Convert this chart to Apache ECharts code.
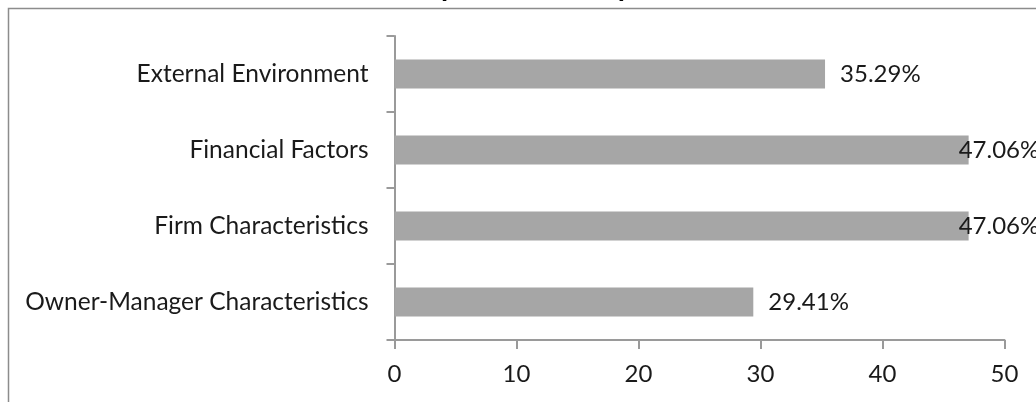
<!DOCTYPE html>
<html>
<head>
<meta charset="utf-8">
<script src="https://cdn.jsdelivr.net/npm/echarts@6/dist/echarts.min.js"></script>
<style>
  html, body { margin: 0; padding: 0; background: #fff; }
  #chart { width: 1036px; height: 402px; }
</style>
</head>
<body>
<div id="chart"></div>
<script>
// categories listed bottom to top (category y axis starts at the bottom)
var categories = [
  "Owner-Manager Characteristics",
  "Firm Characteristics",
  "Financial Factors",
  "External Environment"
];
var shareValues = [29.41, 47.06, 47.06, 35.29];
var xTicks = [0, 10, 20, 30, 40, 50];
var titleText = "(n = 17 studies)";

var FONT = "Lato";
var chart = echarts.init(document.getElementById("chart"));

// labels that would run past the plot edge get pulled back (like Excel does)
var barData = shareValues.map(function (v) {
  var item = { value: v };
  if (v > 45) {
    item.label = { offset: [-25, 0] };
  }
  return item;
});

var option = {
  animation: false,
  backgroundColor: "#fff",
  textStyle: { fontFamily: FONT },
  title: {
    text: titleText,
    left: 528,
    top: -29,
    textAlign: "center",
    textStyle: {
      fontFamily: "Liberation Sans",
      fontSize: 26,
      fontWeight: "bold",
      color: "#000"
    }
  },
  graphic: [
    {
      // outer chart border, runs off the picture on the right and bottom
      type: "rect",
      shape: { x: 8.5, y: 8.5, width: 1100, height: 500 },
      style: { fill: "none", stroke: "#8c8c8c", lineWidth: 1.5 },
      silent: true,
      z: -1
    }
  ],
  grid: {
    left: 394.5,
    top: 36,
    right: 31.5,
    bottom: 62,
    containLabel: false
  },
  xAxis: {
    type: "value",
    min: xTicks[0],
    max: xTicks[xTicks.length - 1],
    interval: xTicks[1] - xTicks[0],
    splitLine: { show: false },
    axisLine: { show: true, lineStyle: { color: "#9a9a9a", width: 2 } },
    axisTick: { show: true, length: 9, lineStyle: { color: "#9a9a9a", width: 2 } },
    axisLabel: {
      margin: 22,
      fontFamily: FONT,
      fontSize: 24,
      color: "#1a1a1a"
    }
  },
  yAxis: {
    type: "category",
    data: categories,
    axisLine: { show: true, lineStyle: { color: "#9a9a9a", width: 2 } },
    axisTick: { show: true, length: 8, alignWithLabel: false, lineStyle: { color: "#9a9a9a", width: 2 } },
    axisLabel: {
      margin: 26,
      fontFamily: FONT,
      fontSize: 24.5,
      color: "#1a1a1a"
    }
  },
  series: [
    {
      type: "bar",
      data: barData,
      barWidth: 29,
      itemStyle: { color: "#a6a6a6" },
      label: {
        show: true,
        position: "right",
        distance: 15,
        fontFamily: FONT,
        fontSize: 24,
        color: "#1a1a1a",
        formatter: function (p) {
          return p.value.toFixed(2) + "%";
        }
      }
    }
  ]
};

chart.setOption(option);
</script>
</body>
</html>
